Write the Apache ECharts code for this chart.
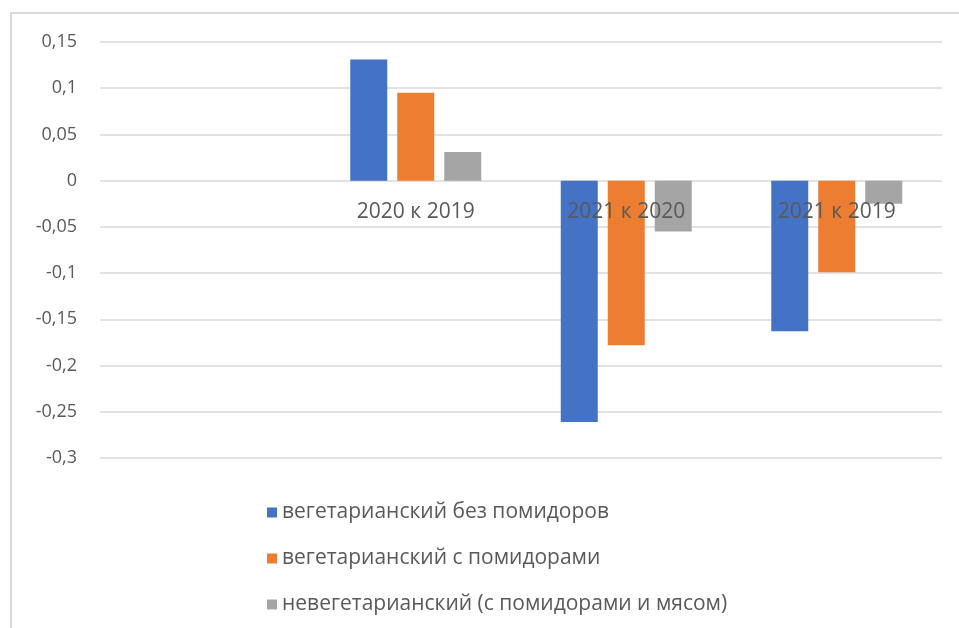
<!DOCTYPE html>
<html>
<head>
<meta charset="utf-8">
<script src="https://cdn.jsdelivr.net/npm/echarts@6/dist/echarts.min.js"></script>
<style>
    html, body { margin: 0; padding: 0; background: #fff; }
    #frame {
        position: absolute; left: 10px; top: 12px; width: 949px; height: 616px;
        border-top: 2px solid #d9d9d9; border-left: 2px solid #d9d9d9;
    }
    #divChart { position: absolute; left: 0; top: 0; width: 959px; height: 628px; }
</style>
</head>
<body>
<div id="frame"></div>
<div id="divChart"></div>
<script>
// категории (первая пустая, как в исходной диаграмме)
var categories = ['', '2020 к 2019', '2021 к 2020', '2021 к 2019'];
var seriesNames = [
    'вегетарианский без помидоров',
    'вегетарианский с помидорами',
    'невегетарианский (с помидорами и мясом)'
];
var vegNoTomato = [null, 0.131, -0.261, -0.163];
var vegTomato = [null, 0.095, -0.178, -0.099];
var nonVeg = [null, 0.031, -0.055, -0.025];
var colors = ['#4472c4', '#ed7d31', '#a5a5a5'];

var myChart = echarts.init(document.getElementById('divChart'));

var textColor = '#595959';
var fontFamily = 'Open Sans, Noto Sans, sans-serif';

function fmt(v) {
    return String(v).replace('.', ',');
}

var allData = [vegNoTomato, vegTomato, nonVeg];
var chartSeries = [];
for (var i = 0; i < allData.length; i++) {
    chartSeries.push({
        name: seriesNames[i],
        type: 'bar',
        barWidth: 37,
        barGap: '27%',
        itemStyle: { color: colors[i] },
        data: allData[i]
    });
}

// подписи категорий стоят у нулевой линии
var gridTop = 42, gridBottom = 170, chartH = 628;
var plotH = chartH - gridTop - gridBottom;
var zeroOffset = -plotH * 0.3 / 0.45;

var option = {
    animation: false,
    color: colors,
    textStyle: { fontFamily: fontFamily },
    legend: {
        orient: 'vertical',
        left: 262,
        top: 497,
        itemWidth: 10,
        itemHeight: 10,
        itemGap: 25,
        icon: 'rect',
        textStyle: {
            color: textColor, fontSize: 21, lineHeight: 20,
            fontFamily: fontFamily
        },
        data: seriesNames
    },
    grid: {
        left: 100,
        right: 17,
        top: gridTop,
        bottom: gridBottom,
        containLabel: false
    },
    xAxis: {
        type: 'category',
        data: categories,
        offset: zeroOffset,
        axisLine: { show: false },
        axisTick: { show: false },
        axisLabel: { color: textColor, fontSize: 21, margin: 21, fontFamily: fontFamily },
        z: 10
    },
    yAxis: {
        type: 'value',
        min: -0.3,
        max: 0.15,
        interval: 0.05,
        axisLine: { show: false },
        axisTick: { show: false },
        splitLine: { lineStyle: { color: '#d9d9d9', width: 1.5 } },
        axisLabel: {
            color: textColor,
            fontSize: 18,
            margin: 23,
            fontFamily: fontFamily,
            formatter: function(v) { return fmt(Math.round(v * 100) / 100); }
        }
    },
    series: chartSeries
};

myChart.setOption(option);
</script>
</body>
</html>
